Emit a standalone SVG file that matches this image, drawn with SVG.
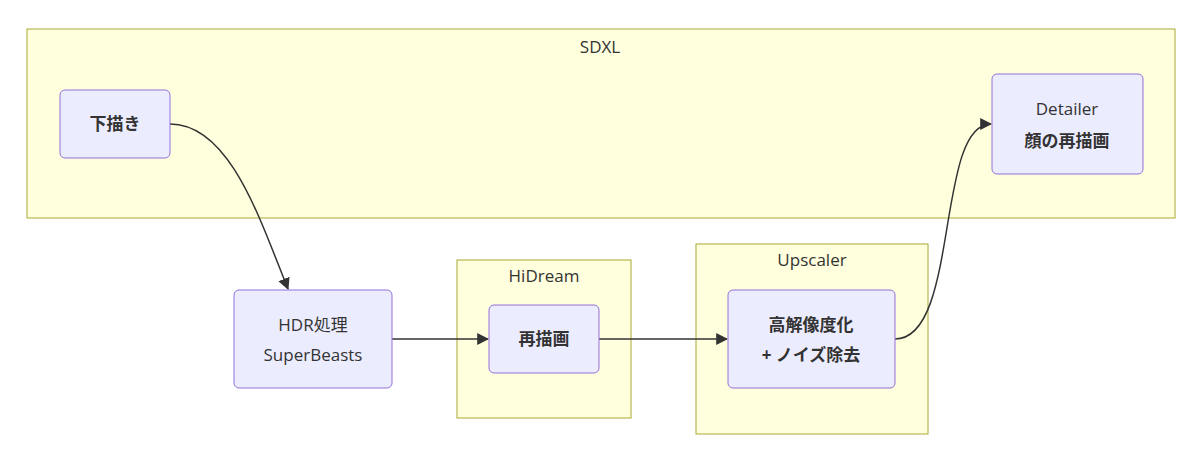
<svg xmlns="http://www.w3.org/2000/svg" width="1200" height="458" viewBox="0 0 1200 458">
<style>
.c{fill:#ffffde;stroke:#aaaa33;stroke-width:1}
.n{fill:#ECECFF;stroke:#9370DB;stroke-width:1}
text{font-family:"Open Sans","Noto Sans CJK JP",sans-serif;font-size:17px;fill:#333;text-anchor:middle}
.b{font-weight:bold}
.e{fill:none;stroke:#333;stroke-width:1.5;marker-end:url(#a)}
</style>
<defs><marker id="a" viewBox="0 0 10 10" refX="9" refY="5" markerWidth="8" markerHeight="8" orient="auto"><path d="M0,0L10,5L0,10z" fill="#333"/></marker></defs>
<rect width="1200" height="458" fill="#fff"/>
<g id="SDXL"><rect class="c" x="27" y="29" width="1148" height="189"/><text x="600" y="53">SDXL</text></g>
<g id="HiDream"><rect class="c" x="457" y="260" width="174" height="158"/><text x="544" y="282">HiDream</text></g>
<g id="Upscaler"><rect class="c" x="696" y="244" width="232" height="190"/><text x="812" y="266">Upscaler</text></g>
<g id="edges">
<path class="e" d="M170,124 C230,124 260,220 288,289"/>
<path class="e" d="M392,339 L488,339"/>
<path class="e" d="M599,339 L727,339"/>
<path class="e" d="M895,339 C960,339 935,124 991,124"/>
</g>
<g id="n1"><rect class="n" x="60" y="90" width="110" height="68" rx="5"/><text class="b" x="115" y="130">下描き</text></g>
<g id="n2"><rect class="n" x="992" y="74" width="151" height="100" rx="5"/><text x="1067" y="115">Detailer</text><text class="b" x="1067" y="147">顔の再描画</text></g>
<g id="n3"><rect class="n" x="234" y="290" width="158" height="98" rx="5"/><text x="313" y="331">HDR処理</text><text x="313" y="361">SuperBeasts</text></g>
<g id="n4"><rect class="n" x="489" y="305" width="110" height="68" rx="5"/><text class="b" x="544" y="345">再描画</text></g>
<g id="n5"><rect class="n" x="728" y="290" width="167" height="98" rx="5"/><text class="b" x="811" y="331">高解像度化</text><text class="b" x="811" y="361">+ ノイズ除去</text></g>
</svg>
